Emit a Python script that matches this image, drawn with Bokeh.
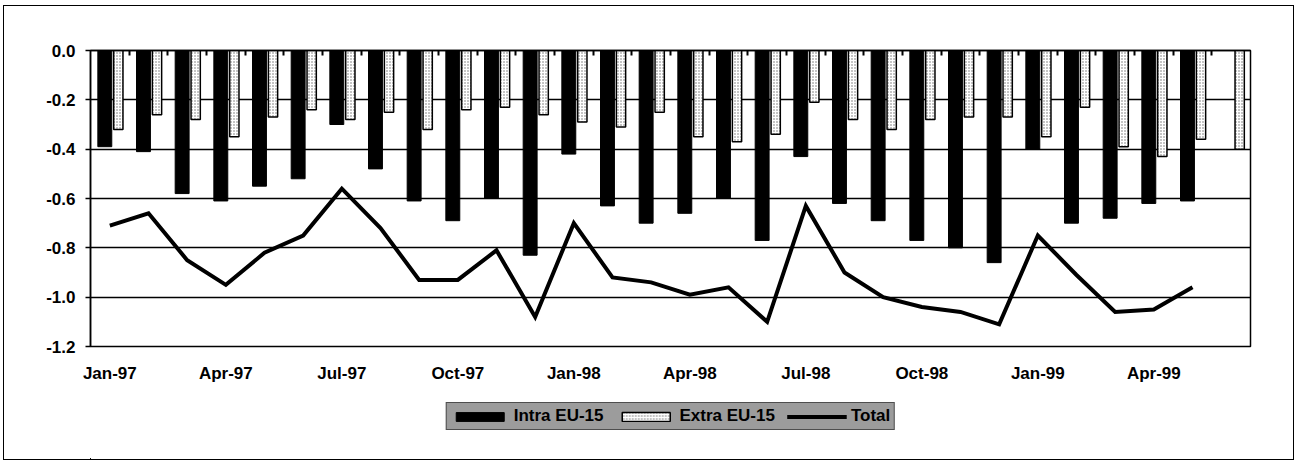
from bokeh.plotting import figure
from bokeh.layouts import column
from bokeh.models import (ColumnDataSource, Range1d, FixedTicker, LinearAxis,
                          NumeralTickFormatter, CustomJSTickFormatter, Legend,
                          LegendItem)
from bokeh.transform import dodge
from bokeh.embed import file_html
from bokeh.resources import INLINE

months = ["Jan-97", "Feb-97", "Mar-97", "Apr-97", "May-97", "Jun-97",
          "Jul-97", "Aug-97", "Sep-97", "Oct-97", "Nov-97", "Dec-97",
          "Jan-98", "Feb-98", "Mar-98", "Apr-98", "May-98", "Jun-98",
          "Jul-98", "Aug-98", "Sep-98", "Oct-98", "Nov-98", "Dec-98",
          "Jan-99", "Feb-99", "Mar-99", "Apr-99", "May-99", "Jun-99"]

intra_eu15 = [-0.39, -0.41, -0.58, -0.61, -0.55, -0.52, -0.30, -0.48, -0.61, -0.69,
              -0.60, -0.83, -0.42, -0.63, -0.70, -0.66, -0.60, -0.77, -0.43, -0.62,
              -0.69, -0.77, -0.80, -0.86, -0.40, -0.70, -0.68, -0.62, -0.61, None]

extra_eu15 = [-0.32, -0.26, -0.28, -0.35, -0.27, -0.24, -0.28, -0.25, -0.32, -0.24,
              -0.23, -0.26, -0.29, -0.31, -0.25, -0.35, -0.37, -0.34, -0.21, -0.28,
              -0.32, -0.28, -0.27, -0.27, -0.35, -0.23, -0.39, -0.43, -0.36, -0.40]

total = [-0.71, -0.66, -0.85, -0.95, -0.82, -0.75, -0.56, -0.72, -0.93, -0.93,
         -0.81, -1.08, -0.70, -0.92, -0.94, -0.99, -0.96, -1.10, -0.63, -0.90,
         -1.00, -1.04, -1.06, -1.11, -0.75, -0.91, -1.06, -1.05, -0.96, None]

label_months = ["Jan-97", "Apr-97", "Jul-97", "Oct-97", "Jan-98", "Apr-98",
                "Jul-98", "Oct-98", "Jan-99", "Apr-99"]
y_ticks = [0.0, -0.2, -0.4, -0.6, -0.8, -1.0, -1.2]
series_names = ["Intra EU-15", "Extra EU-15", "Total"]

def nz(v):
    return float("nan") if v is None else v

src = ColumnDataSource(dict(
    x=list(range(len(months))),
    intra=[nz(v) for v in intra_eu15],
    extra=[nz(v) for v in extra_eu15],
    total=[nz(v) for v in total],
))

FONT = "Liberation Sans"
FS = "17px"
W = 1289

INTRA_STYLE = dict(fill_color="black", line_color="black")
EXTRA_STYLE = dict(fill_color="white", line_color="black", line_width=1.5,
                   hatch_pattern="dot", hatch_color="#6e6e6e", hatch_scale=3,
                   hatch_weight=1.3)
TOTAL_STYLE = dict(line_color="black", line_width=4, line_join="miter")

# ---------------- main chart ----------------
p = figure(width=W, height=387, output_backend="svg", toolbar_location=None,
           x_range=Range1d(-0.5, len(months) - 0.5), y_range=Range1d(-1.2, 0.0),
           min_border_left=86, min_border_right=43, min_border_top=44,
           min_border_bottom=47)

p.outline_line_color = "black"
p.outline_line_width = 1.5
p.xgrid.visible = False
p.ygrid.grid_line_color = "black"
p.ygrid.grid_line_width = 1.5
p.ygrid.ticker = FixedTicker(ticks=y_ticks)

p.vbar(x=dodge("x", -0.13), top="intra", bottom=0, width=0.36, source=src,
       **INTRA_STYLE)
p.vbar(x=dodge("x", 0.22), top="extra", bottom=0, width=0.24, source=src,
       **EXTRA_STYLE)
p.line(x="x", y="total", source=src, **TOTAL_STYLE)

yax = p.yaxis[0]
yax.ticker = FixedTicker(ticks=y_ticks)
yax.formatter = NumeralTickFormatter(format="0.0")
yax.major_tick_out = 5
yax.major_tick_in = 0
yax.minor_tick_line_color = None
yax.axis_line_width = 1.5
yax.major_tick_line_width = 1.5
yax.major_label_standoff = 10
yax.major_label_text_font = FONT
yax.major_label_text_font_style = "bold"
yax.major_label_text_font_size = FS
yax.major_label_text_color = "black"

xax = p.xaxis[0]
xax.ticker = FixedTicker(ticks=[months.index(m) for m in label_months])
xax.major_label_overrides = {months.index(m): m for m in label_months}
xax.axis_line_color = None
xax.major_tick_line_color = None
xax.minor_tick_line_color = None
xax.major_label_standoff = 11
xax.major_label_text_font = FONT
xax.major_label_text_font_style = "bold"
xax.major_label_text_font_size = FS
xax.major_label_text_color = "black"

# category-boundary ticks along the zero line, pointing down into the plot
top = LinearAxis(ticker=FixedTicker(ticks=[i + 0.5 for i in range(len(months) - 1)]),
                 formatter=CustomJSTickFormatter(code="return ''"))
top.axis_line_width = 1.5
top.major_tick_in = 5
top.major_tick_out = 0
top.major_tick_line_width = 2
top.minor_tick_line_color = None
top.major_label_standoff = 0
p.add_layout(top, "above")

# ---------------- legend strip ----------------
# same data source; the x range is set away from the data so only the legend shows
q = figure(width=W, height=66, output_backend="svg", toolbar_location=None,
           x_range=Range1d(1000, 1001), y_range=Range1d(0, 1),
           x_axis_type=None, y_axis_type=None,
           min_border_left=86, min_border_right=43, min_border_top=0,
           min_border_bottom=0)
q.grid.visible = False
q.outline_line_color = None
g_intra = q.vbar(x="x", top="intra", bottom=0, width=0.36, source=src, **INTRA_STYLE)
g_extra = q.vbar(x="x", top="extra", bottom=0, width=0.24, source=src, **EXTRA_STYLE)
g_total = q.line(x="x", y="total", source=src, **TOTAL_STYLE)

legend = Legend(items=[
    LegendItem(label=series_names[0], renderers=[g_intra]),
    LegendItem(label=series_names[1], renderers=[g_extra]),
    LegendItem(label=series_names[2], renderers=[g_total]),
], orientation="horizontal", location="top_center")
legend.background_fill_color = "#9c9c9c"
legend.background_fill_alpha = 1.0
legend.border_line_color = "black"
legend.border_line_width = 1.5
legend.label_text_font = FONT
legend.label_text_font_style = "bold"
legend.label_text_font_size = FS
legend.label_text_color = "black"
legend.glyph_width = 60
legend.glyph_height = 11
legend.label_standoff = 4
legend.spacing = 12
legend.padding = 3
legend.margin = 9
legend.label_height = 12
q.add_layout(legend, "center")

layout = column(p, q, spacing=0,
                styles={"position": "relative", "left": "4px", "top": "6px",
                        "outline": "1.5px solid black"})

open("out.html", "w").write(file_html(layout, INLINE))
